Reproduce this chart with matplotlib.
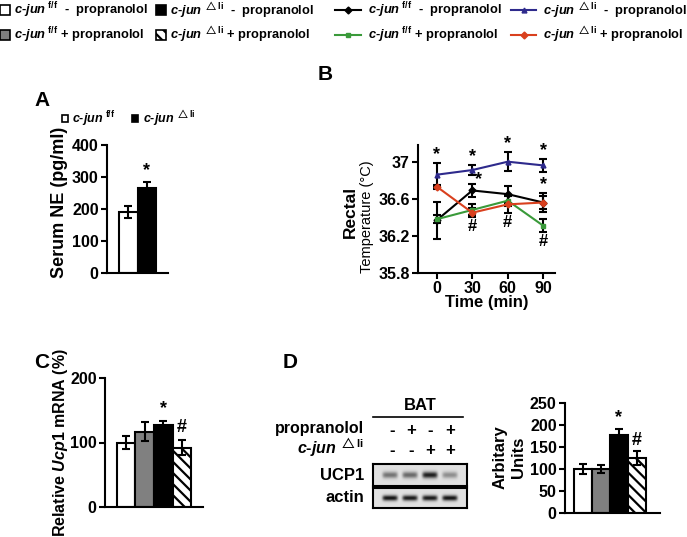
import numpy as np
import matplotlib
matplotlib.use("Agg")
import matplotlib.pyplot as plt
from matplotlib.patches import Patch
from matplotlib.lines import Line2D

plt.rcParams['font.family'] = ['Liberation Sans', 'DejaVu Sans']
plt.rcParams['font.weight'] = 'bold'
plt.rcParams['mathtext.fontset'] = 'custom'
plt.rcParams['mathtext.rm'] = 'Liberation Sans:bold'
plt.rcParams['mathtext.it'] = 'Liberation Sans:italic:bold'
plt.rcParams['mathtext.bf'] = 'Liberation Sans:bold'
plt.rcParams['hatch.linewidth'] = 1.6
plt.rcParams['axes.linewidth'] = 1.5

W, H = 687, 537

FF = r"$\mathit{c}$-$\mathit{jun}^{\ \mathrm{f/f}}$"
LI = r"$\mathit{c}$-$\mathit{jun}^{\ \triangle\mathrm{li}}$"
group_labels = [FF + "  -  propranolol", FF + " + propranolol",
                LI + "  -  propranolol", LI + " + propranolol"]

# panel A
a_groups = [FF, LI]
a_vals = [190, 265]
a_err = [18, 20]
a_marks = ["", "*"]

# panel B
times = [0, 30, 60, 90]
b_ff_minus = [36.37, 36.69, 36.65, 36.56]
b_ff_minus_err = [0.20, 0.07, 0.09, 0.07]
b_li_minus = [36.86, 36.91, 37.00, 36.96]
b_li_minus_err = [0.13, 0.05, 0.10, 0.07]
b_ff_plus = [36.38, 36.48, 36.58, 36.31]
b_ff_plus_err = [0.04, 0.06, 0.06, 0.07]
b_li_plus = [36.73, 36.45, 36.54, 36.56]
b_li_plus_err = [0.02, 0.05, 0.09, 0.10]

# panel C
c_vals = [100, 117, 127, 92]
c_err = [10, 15, 6, 12]
c_marks = ["", "", "*", "#"]

# panel D
d_propranolol = ["-", "+", "-", "+"]
d_cjun = ["-", "-", "+", "+"]
d_ucp1 = [0.5, 0.55, 0.9, 0.38]
d_actin = [0.95, 0.92, 0.92, 0.95]
d_vals = [100, 100, 178, 125]
d_err = [12, 10, 13, 15]
d_marks = ["", "", "*", "#"]

bar_faces = ['white', '#808080', 'black', 'white']
bar_hatch = [None, None, None, '\\\\\\']
line_colors = ['black', '#2e2a8c', '#3a9a3a', '#d9401e']
line_markers = ['D', '^', 's', 'D']


def rect(x0, y0, x1, y1):
    return [x0 / W, 1 - y1 / H, (x1 - x0) / W, (y1 - y0) / H]


def ftext(x, y, s, **kw):
    fig.text(x / W, 1 - y / H, s, **kw)


def style(ax):
    ax.spines['top'].set_visible(False)
    ax.spines['right'].set_visible(False)
    ax.tick_params(width=1.5, length=4, labelsize=11.5, pad=2)
    for t in ax.get_yticklabels():
        t.set_fontweight('bold')


def bars(ax, vals, err, marks, off, idx):
    x = np.arange(len(vals))
    for i in x:
        k = idx[i]
        ax.bar(i, vals[i], width=1.0, color=bar_faces[k], edgecolor='black',
               linewidth=1.5, hatch=bar_hatch[k])
    ax.errorbar(x, vals, yerr=err, fmt='none', ecolor='black', elinewidth=1.5,
                capsize=3, capthick=1.5)
    for i in x:
        if marks[i]:
            ax.text(i, vals[i] + err[i] + off, marks[i], ha='center',
                    va='bottom', fontsize=13)
    ax.set_xticks([])


fig = plt.figure(figsize=(W / 100, H / 100), dpi=100)

# top legends
bar_handles = [Patch(facecolor=bar_faces[i], edgecolor='black', linewidth=1.2,
                     hatch=bar_hatch[i]) for i in range(4)]
fig.legend(bar_handles, group_labels, loc='upper left', bbox_to_anchor=(0.0, 1.0),
           ncol=2, frameon=False, fontsize=9.3, handlelength=0.75, handleheight=0.75,
           handletextpad=0.35, columnspacing=0.6, labelspacing=0.4,
           borderaxespad=0.0, borderpad=0.0)
order = [0, 2, 1, 3]
line_handles = [Line2D([], [], color=line_colors[k], marker=line_markers[k],
                       markersize=3.5, linewidth=1.5) for k in order]
fig.legend(line_handles, group_labels, loc='upper right', bbox_to_anchor=(1.0, 1.0),
           ncol=2, frameon=False, fontsize=9.3, handlelength=2.0,
           handletextpad=0.5, columnspacing=0.7, labelspacing=0.4,
           borderaxespad=0.0, borderpad=0.0)

# panel A
axA = fig.add_axes(rect(107, 145, 168, 273))
bars(axA, a_vals, a_err, a_marks, 8, [0, 2])
axA.set_ylim(0, 400)
axA.set_yticks([0, 100, 200, 300, 400])
axA.set_xlim(-1.19, 2.19)
style(axA)
axA.legend(bar_handles[::2], a_groups, loc='lower center', bbox_to_anchor=(0.35, 1.04),
           ncol=2, frameon=False, fontsize=9, handlelength=0.5, handleheight=0.5,
           handletextpad=0.35, columnspacing=1.3)
ftext(59, 202, "Serum NE (pg/ml)", rotation=90, ha='center', va='center', fontsize=13)
ftext(42, 100, "A", ha='center', va='center', fontsize=15)

# panel B
axB = fig.add_axes(rect(418, 145, 555, 273))
series = [(b_ff_minus, b_ff_minus_err), (b_li_minus, b_li_minus_err),
          (b_ff_plus, b_ff_plus_err), (b_li_plus, b_li_plus_err)]
for k, (v, e) in enumerate(series):
    axB.errorbar(times, v, yerr=e, color=line_colors[k], marker=line_markers[k],
                 markersize=3.5, linewidth=1.5, ecolor='black', elinewidth=1.5,
                 capsize=3, capthick=1.5)
for t, v, e in zip(times, b_li_minus, b_li_minus_err):
    axB.text(t, v + e + 0.0, "*", ha='center', va='bottom', fontsize=13)
axB.text(32, b_ff_minus[1] + b_ff_minus_err[1] - 0.04, "*", ha='left', va='bottom', fontsize=13)
axB.text(90, b_ff_minus[3] + b_ff_minus_err[3] + 0.03, "*", ha='center', va='bottom', fontsize=13)
for i in (1, 2, 3):
    low = min(b_ff_plus[i] - b_ff_plus_err[i], b_li_plus[i] - b_li_plus_err[i])
    axB.text(times[i], low - 0.02, "#", ha='center', va='top', fontsize=12)
axB.set_xlim(-16, 100)
axB.set_ylim(35.8, 37.18)
axB.set_xticks(times)
axB.set_yticks([35.8, 36.2, 36.6, 37.0])
axB.set_yticklabels(["35.8", "36.2", "36.6", "37"])
style(axB)
for t in axB.get_xticklabels():
    t.set_fontweight('bold')
ftext(487, 303, "Time (min)", ha='center', va='center', fontsize=12)
ftext(350, 212, "Rectal", rotation=90, ha='center', va='center', fontsize=12.5)
ftext(367, 217, "Temperature (°C)", rotation=90, ha='center', va='center',
      fontsize=10.5, fontweight='normal')
ftext(325, 75, "B", ha='center', va='center', fontsize=15)

# panel C
axC = fig.add_axes(rect(105, 378, 203, 507))
bars(axC, c_vals, c_err, c_marks, 6, [0, 1, 2, 3])
axC.set_ylim(0, 200)
axC.set_yticks([0, 100, 200])
axC.set_xlim(-1.12, 4.12)
style(axC)
ftext(60, 443, r"Relative $\mathit{Ucp1}$ mRNA (%)", rotation=90, ha='center',
      va='center', fontsize=11.5)
ftext(42, 362, "C", ha='center', va='center', fontsize=15)

# panel D blot
ftext(290, 362, "D", ha='center', va='center', fontsize=15)
ftext(420, 405, "BAT", ha='center', va='center', fontsize=12)
fig.add_artist(Line2D([373 / W, 463 / W], [1 - 417 / H, 1 - 417 / H],
                      color='black', linewidth=1.2))
ftext(364, 428, "propranolol", ha='right', va='center', fontsize=11.5)
ftext(364, 448, LI, ha='right', va='center', fontsize=11.5)
lane_x = [392, 411, 430, 450]
for i in range(4):
    ftext(lane_x[i], 431, d_propranolol[i], ha='center', va='center', fontsize=12)
    ftext(lane_x[i], 450, d_cjun[i], ha='center', va='center', fontsize=12)


def blot(ax, amps, sharp):
    xs = np.linspace(-0.85, 3.85, 300)
    ys = np.linspace(-0.5, 0.5, 40)
    X, Y = np.meshgrid(xs, ys)
    img = np.zeros_like(X)
    for i, a in enumerate(amps):
        img += a * np.exp(-((X - i) / 0.38) ** 6) * np.exp(-(Y / sharp) ** 2)
    ax.imshow(0.88 - 0.85 * img, cmap='gray', vmin=0, vmax=1, aspect='auto',
              extent=(-0.85, 3.85, -0.5, 0.5))
    ax.set_xticks([])
    ax.set_yticks([])
    for s in ax.spines.values():
        s.set_linewidth(1.5)


axU = fig.add_axes(rect(373, 464, 467, 486))
blot(axU, d_ucp1, 0.15)
axAc = fig.add_axes(rect(373, 488, 467, 508))
blot(axAc, d_actin, 0.14)
ftext(364, 475, "UCP1", ha='right', va='center', fontsize=12)
ftext(364, 498, "actin", ha='right', va='center', fontsize=12)

# panel D bars
axD = fig.add_axes(rect(565, 403, 660, 513))
bars(axD, d_vals, d_err, d_marks, 6, [0, 1, 2, 3])
axD.set_ylim(0, 250)
axD.set_yticks([0, 50, 100, 150, 200, 250])
axD.set_xlim(-1.0, 4.28)
style(axD)
ftext(500, 457, "Arbitary", rotation=90, ha='center', va='center', fontsize=12)
ftext(518, 457, "Units", rotation=90, ha='center', va='center', fontsize=12)

fig.savefig("out.png", dpi=100)
